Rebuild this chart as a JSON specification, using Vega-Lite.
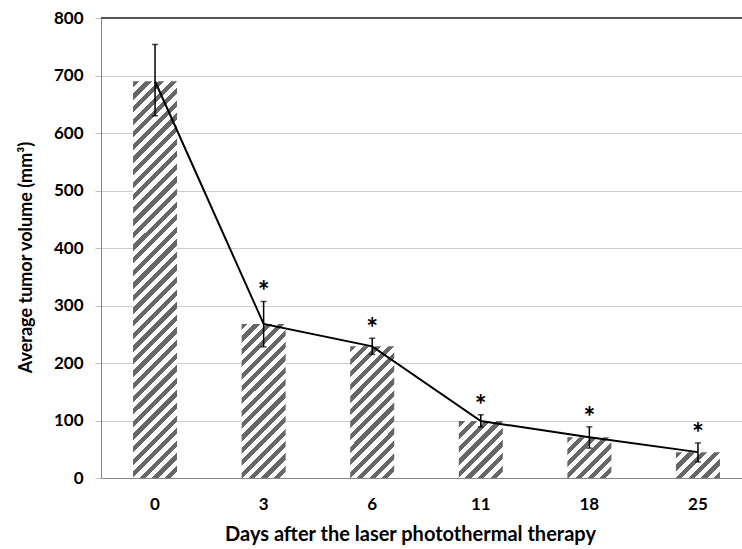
{
  "$schema": "https://vega.github.io/schema/vega-lite/v6.json",
  "autosize": "none",
  "width": 641,
  "height": 460,
  "padding": {"left": 101, "top": 18, "right": 0, "bottom": 71},
  "background": "white",
  "config": {
    "view": {"stroke": null},
    "axis": {"labelFont": "Lato", "labelFontWeight": "bold", "labelFontSize": 17, "labelColor": "#000000", "titleFont": "Lato", "titleFontWeight": "bold", "titleFontSize": 18, "titleColor": "#000000"}
  },
  "data": {"values": [
    {"day": "0", "volume": 690, "lo": 630, "hi": 754, "sig": ""},
    {"day": "3", "volume": 268, "lo": 228, "hi": 307, "sig": "*"},
    {"day": "6", "volume": 229, "lo": 215, "hi": 243, "sig": "*"},
    {"day": "11", "volume": 99, "lo": 89, "hi": 110, "sig": "*"},
    {"day": "18", "volume": 71, "lo": 52, "hi": 89, "sig": "*"},
    {"day": "25", "volume": 45, "lo": 28, "hi": 61, "sig": "*"}
  ]},
  "encoding": {
    "x": {"field": "day", "type": "ordinal", "sort": null,
      "scale": {"domain": ["0", "3", "6", "11", "18", "25"], "range": [0, 651], "paddingInner": 0.5945, "paddingOuter": 0.295},
      "axis": {"title": "Days after the laser photothermal therapy", "titleFontSize": 20, "labelAngle": 0, "ticks": false, "domainColor": "#868686", "domainWidth": 1, "labelPadding": 18, "titlePadding": 12, "titleX": 309}},
    "y": {"field": "volume", "type": "quantitative", "title": "Average tumor volume (mm³)",
      "scale": {"domain": [0, 800]},
      "axis": {"values": [0, 100, 200, 300, 400, 500, 600, 700, 800], "grid": true, "gridColor": "#cccccc", "gridWidth": 1,
        "domainColor": "#868686", "tickColor": "#bfbfbf", "tickSize": 6, "labelPadding": 12, "titlePadding": 18, "titleY": 239}}
  },
  "layer": [
    {"mark": {"type": "rule", "color": "#595959", "strokeWidth": 1.5},
     "encoding": {"x": {"value": 0}, "x2": {"value": 641}, "y": {"datum": 800, "type": "quantitative", "title": "Average tumor volume (mm³)"}}},
    {"transform": [{"filter": "datum.day == '0'"}],
     "mark": {"type": "bar", "stroke": null, "fill": {"gradient": "linear", "x1": 0, "y1": 0, "x2": 0.1217, "y2": 1.09742, "stops": [
      {"offset":0,"color":"#676767"},{"offset":0.01429,"color":"#676767"},{"offset":0.01429,"color":"#fff"},{"offset":0.02857,"color":"#fff"},
      {"offset":0.02857,"color":"#676767"},{"offset":0.04286,"color":"#676767"},{"offset":0.04286,"color":"#fff"},{"offset":0.05714,"color":"#fff"},
      {"offset":0.05714,"color":"#676767"},{"offset":0.07143,"color":"#676767"},{"offset":0.07143,"color":"#fff"},{"offset":0.08571,"color":"#fff"},
      {"offset":0.08571,"color":"#676767"},{"offset":0.1,"color":"#676767"},{"offset":0.1,"color":"#fff"},{"offset":0.11429,"color":"#fff"},
      {"offset":0.11429,"color":"#676767"},{"offset":0.12857,"color":"#676767"},{"offset":0.12857,"color":"#fff"},{"offset":0.14286,"color":"#fff"},
      {"offset":0.14286,"color":"#676767"},{"offset":0.15714,"color":"#676767"},{"offset":0.15714,"color":"#fff"},{"offset":0.17143,"color":"#fff"},
      {"offset":0.17143,"color":"#676767"},{"offset":0.18571,"color":"#676767"},{"offset":0.18571,"color":"#fff"},{"offset":0.2,"color":"#fff"},
      {"offset":0.2,"color":"#676767"},{"offset":0.21429,"color":"#676767"},{"offset":0.21429,"color":"#fff"},{"offset":0.22857,"color":"#fff"},
      {"offset":0.22857,"color":"#676767"},{"offset":0.24286,"color":"#676767"},{"offset":0.24286,"color":"#fff"},{"offset":0.25714,"color":"#fff"},
      {"offset":0.25714,"color":"#676767"},{"offset":0.27143,"color":"#676767"},{"offset":0.27143,"color":"#fff"},{"offset":0.28571,"color":"#fff"},
      {"offset":0.28571,"color":"#676767"},{"offset":0.3,"color":"#676767"},{"offset":0.3,"color":"#fff"},{"offset":0.31429,"color":"#fff"},
      {"offset":0.31429,"color":"#676767"},{"offset":0.32857,"color":"#676767"},{"offset":0.32857,"color":"#fff"},{"offset":0.34286,"color":"#fff"},
      {"offset":0.34286,"color":"#676767"},{"offset":0.35714,"color":"#676767"},{"offset":0.35714,"color":"#fff"},{"offset":0.37143,"color":"#fff"},
      {"offset":0.37143,"color":"#676767"},{"offset":0.38571,"color":"#676767"},{"offset":0.38571,"color":"#fff"},{"offset":0.4,"color":"#fff"},
      {"offset":0.4,"color":"#676767"},{"offset":0.41429,"color":"#676767"},{"offset":0.41429,"color":"#fff"},{"offset":0.42857,"color":"#fff"},
      {"offset":0.42857,"color":"#676767"},{"offset":0.44286,"color":"#676767"},{"offset":0.44286,"color":"#fff"},{"offset":0.45714,"color":"#fff"},
      {"offset":0.45714,"color":"#676767"},{"offset":0.47143,"color":"#676767"},{"offset":0.47143,"color":"#fff"},{"offset":0.48571,"color":"#fff"},
      {"offset":0.48571,"color":"#676767"},{"offset":0.5,"color":"#676767"},{"offset":0.5,"color":"#fff"},{"offset":0.51429,"color":"#fff"},
      {"offset":0.51429,"color":"#676767"},{"offset":0.52857,"color":"#676767"},{"offset":0.52857,"color":"#fff"},{"offset":0.54286,"color":"#fff"},
      {"offset":0.54286,"color":"#676767"},{"offset":0.55714,"color":"#676767"},{"offset":0.55714,"color":"#fff"},{"offset":0.57143,"color":"#fff"},
      {"offset":0.57143,"color":"#676767"},{"offset":0.58571,"color":"#676767"},{"offset":0.58571,"color":"#fff"},{"offset":0.6,"color":"#fff"},
      {"offset":0.6,"color":"#676767"},{"offset":0.61429,"color":"#676767"},{"offset":0.61429,"color":"#fff"},{"offset":0.62857,"color":"#fff"},
      {"offset":0.62857,"color":"#676767"},{"offset":0.64286,"color":"#676767"},{"offset":0.64286,"color":"#fff"},{"offset":0.65714,"color":"#fff"},
      {"offset":0.65714,"color":"#676767"},{"offset":0.67143,"color":"#676767"},{"offset":0.67143,"color":"#fff"},{"offset":0.68571,"color":"#fff"},
      {"offset":0.68571,"color":"#676767"},{"offset":0.7,"color":"#676767"},{"offset":0.7,"color":"#fff"},{"offset":0.71429,"color":"#fff"},
      {"offset":0.71429,"color":"#676767"},{"offset":0.72857,"color":"#676767"},{"offset":0.72857,"color":"#fff"},{"offset":0.74286,"color":"#fff"},
      {"offset":0.74286,"color":"#676767"},{"offset":0.75714,"color":"#676767"},{"offset":0.75714,"color":"#fff"},{"offset":0.77143,"color":"#fff"},
      {"offset":0.77143,"color":"#676767"},{"offset":0.78571,"color":"#676767"},{"offset":0.78571,"color":"#fff"},{"offset":0.8,"color":"#fff"},
      {"offset":0.8,"color":"#676767"},{"offset":0.81429,"color":"#676767"},{"offset":0.81429,"color":"#fff"},{"offset":0.82857,"color":"#fff"},
      {"offset":0.82857,"color":"#676767"},{"offset":0.84286,"color":"#676767"},{"offset":0.84286,"color":"#fff"},{"offset":0.85714,"color":"#fff"},
      {"offset":0.85714,"color":"#676767"},{"offset":0.87143,"color":"#676767"},{"offset":0.87143,"color":"#fff"},{"offset":0.88571,"color":"#fff"},
      {"offset":0.88571,"color":"#676767"},{"offset":0.9,"color":"#676767"},{"offset":0.9,"color":"#fff"},{"offset":0.91429,"color":"#fff"},
      {"offset":0.91429,"color":"#676767"},{"offset":0.92857,"color":"#676767"},{"offset":0.92857,"color":"#fff"},{"offset":0.94286,"color":"#fff"},
      {"offset":0.94286,"color":"#676767"},{"offset":0.95714,"color":"#676767"},{"offset":0.95714,"color":"#fff"},{"offset":0.97143,"color":"#fff"},
      {"offset":0.97143,"color":"#676767"},{"offset":0.98571,"color":"#676767"},{"offset":0.98571,"color":"#fff"},{"offset":1,"color":"#fff"}
     ]}}},
    {"transform": [{"filter": "datum.day == '3'"}],
     "mark": {"type": "bar", "stroke": null, "fill": {"gradient": "linear", "x1": 0, "y1": 0, "x2": 0.33939, "y2": 1.18862, "stops": [
      {"offset":0,"color":"#676767"},{"offset":0.03125,"color":"#676767"},{"offset":0.03125,"color":"#fff"},{"offset":0.0625,"color":"#fff"},
      {"offset":0.0625,"color":"#676767"},{"offset":0.09375,"color":"#676767"},{"offset":0.09375,"color":"#fff"},{"offset":0.125,"color":"#fff"},
      {"offset":0.125,"color":"#676767"},{"offset":0.15625,"color":"#676767"},{"offset":0.15625,"color":"#fff"},{"offset":0.1875,"color":"#fff"},
      {"offset":0.1875,"color":"#676767"},{"offset":0.21875,"color":"#676767"},{"offset":0.21875,"color":"#fff"},{"offset":0.25,"color":"#fff"},
      {"offset":0.25,"color":"#676767"},{"offset":0.28125,"color":"#676767"},{"offset":0.28125,"color":"#fff"},{"offset":0.3125,"color":"#fff"},
      {"offset":0.3125,"color":"#676767"},{"offset":0.34375,"color":"#676767"},{"offset":0.34375,"color":"#fff"},{"offset":0.375,"color":"#fff"},
      {"offset":0.375,"color":"#676767"},{"offset":0.40625,"color":"#676767"},{"offset":0.40625,"color":"#fff"},{"offset":0.4375,"color":"#fff"},
      {"offset":0.4375,"color":"#676767"},{"offset":0.46875,"color":"#676767"},{"offset":0.46875,"color":"#fff"},{"offset":0.5,"color":"#fff"},
      {"offset":0.5,"color":"#676767"},{"offset":0.53125,"color":"#676767"},{"offset":0.53125,"color":"#fff"},{"offset":0.5625,"color":"#fff"},
      {"offset":0.5625,"color":"#676767"},{"offset":0.59375,"color":"#676767"},{"offset":0.59375,"color":"#fff"},{"offset":0.625,"color":"#fff"},
      {"offset":0.625,"color":"#676767"},{"offset":0.65625,"color":"#676767"},{"offset":0.65625,"color":"#fff"},{"offset":0.6875,"color":"#fff"},
      {"offset":0.6875,"color":"#676767"},{"offset":0.71875,"color":"#676767"},{"offset":0.71875,"color":"#fff"},{"offset":0.75,"color":"#fff"},
      {"offset":0.75,"color":"#676767"},{"offset":0.78125,"color":"#676767"},{"offset":0.78125,"color":"#fff"},{"offset":0.8125,"color":"#fff"},
      {"offset":0.8125,"color":"#676767"},{"offset":0.84375,"color":"#676767"},{"offset":0.84375,"color":"#fff"},{"offset":0.875,"color":"#fff"},
      {"offset":0.875,"color":"#676767"},{"offset":0.90625,"color":"#676767"},{"offset":0.90625,"color":"#fff"},{"offset":0.9375,"color":"#fff"},
      {"offset":0.9375,"color":"#676767"},{"offset":0.96875,"color":"#676767"},{"offset":0.96875,"color":"#fff"},{"offset":1,"color":"#fff"}
     ]}}},
    {"transform": [{"filter": "datum.day == '6'"}],
     "mark": {"type": "bar", "stroke": null, "fill": {"gradient": "linear", "x1": 0, "y1": 0, "x2": 0.40288, "y2": 1.2004, "stops": [
      {"offset":0,"color":"#676767"},{"offset":0.03571,"color":"#676767"},{"offset":0.03571,"color":"#fff"},{"offset":0.07143,"color":"#fff"},
      {"offset":0.07143,"color":"#676767"},{"offset":0.10714,"color":"#676767"},{"offset":0.10714,"color":"#fff"},{"offset":0.14286,"color":"#fff"},
      {"offset":0.14286,"color":"#676767"},{"offset":0.17857,"color":"#676767"},{"offset":0.17857,"color":"#fff"},{"offset":0.21429,"color":"#fff"},
      {"offset":0.21429,"color":"#676767"},{"offset":0.25,"color":"#676767"},{"offset":0.25,"color":"#fff"},{"offset":0.28571,"color":"#fff"},
      {"offset":0.28571,"color":"#676767"},{"offset":0.32143,"color":"#676767"},{"offset":0.32143,"color":"#fff"},{"offset":0.35714,"color":"#fff"},
      {"offset":0.35714,"color":"#676767"},{"offset":0.39286,"color":"#676767"},{"offset":0.39286,"color":"#fff"},{"offset":0.42857,"color":"#fff"},
      {"offset":0.42857,"color":"#676767"},{"offset":0.46429,"color":"#676767"},{"offset":0.46429,"color":"#fff"},{"offset":0.5,"color":"#fff"},
      {"offset":0.5,"color":"#676767"},{"offset":0.53571,"color":"#676767"},{"offset":0.53571,"color":"#fff"},{"offset":0.57143,"color":"#fff"},
      {"offset":0.57143,"color":"#676767"},{"offset":0.60714,"color":"#676767"},{"offset":0.60714,"color":"#fff"},{"offset":0.64286,"color":"#fff"},
      {"offset":0.64286,"color":"#676767"},{"offset":0.67857,"color":"#676767"},{"offset":0.67857,"color":"#fff"},{"offset":0.71429,"color":"#fff"},
      {"offset":0.71429,"color":"#676767"},{"offset":0.75,"color":"#676767"},{"offset":0.75,"color":"#fff"},{"offset":0.78571,"color":"#fff"},
      {"offset":0.78571,"color":"#676767"},{"offset":0.82143,"color":"#676767"},{"offset":0.82143,"color":"#fff"},{"offset":0.85714,"color":"#fff"},
      {"offset":0.85714,"color":"#676767"},{"offset":0.89286,"color":"#676767"},{"offset":0.89286,"color":"#fff"},{"offset":0.92857,"color":"#fff"},
      {"offset":0.92857,"color":"#676767"},{"offset":0.96429,"color":"#676767"},{"offset":0.96429,"color":"#fff"},{"offset":1,"color":"#fff"}
     ]}}},
    {"transform": [{"filter": "datum.day == '11'"}],
     "mark": {"type": "bar", "stroke": null, "fill": {"gradient": "linear", "x1": 0, "y1": 0, "x2": 0.85786, "y2": 1.10985, "stops": [
      {"offset":0,"color":"#676767"},{"offset":0.0625,"color":"#676767"},{"offset":0.0625,"color":"#fff"},{"offset":0.125,"color":"#fff"},
      {"offset":0.125,"color":"#676767"},{"offset":0.1875,"color":"#676767"},{"offset":0.1875,"color":"#fff"},{"offset":0.25,"color":"#fff"},
      {"offset":0.25,"color":"#676767"},{"offset":0.3125,"color":"#676767"},{"offset":0.3125,"color":"#fff"},{"offset":0.375,"color":"#fff"},
      {"offset":0.375,"color":"#676767"},{"offset":0.4375,"color":"#676767"},{"offset":0.4375,"color":"#fff"},{"offset":0.5,"color":"#fff"},
      {"offset":0.5,"color":"#676767"},{"offset":0.5625,"color":"#676767"},{"offset":0.5625,"color":"#fff"},{"offset":0.625,"color":"#fff"},
      {"offset":0.625,"color":"#676767"},{"offset":0.6875,"color":"#676767"},{"offset":0.6875,"color":"#fff"},{"offset":0.75,"color":"#fff"},
      {"offset":0.75,"color":"#676767"},{"offset":0.8125,"color":"#676767"},{"offset":0.8125,"color":"#fff"},{"offset":0.875,"color":"#fff"},
      {"offset":0.875,"color":"#676767"},{"offset":0.9375,"color":"#676767"},{"offset":0.9375,"color":"#fff"},{"offset":1,"color":"#fff"}
     ]}}},
    {"transform": [{"filter": "datum.day == '18'"}],
     "mark": {"type": "bar", "stroke": null, "fill": {"gradient": "linear", "x1": 0, "y1": 0, "x2": 1.03598, "y2": 0.96122, "stops": [
      {"offset":0,"color":"#676767"},{"offset":0.07143,"color":"#676767"},{"offset":0.07143,"color":"#fff"},{"offset":0.14286,"color":"#fff"},
      {"offset":0.14286,"color":"#676767"},{"offset":0.21429,"color":"#676767"},{"offset":0.21429,"color":"#fff"},{"offset":0.28571,"color":"#fff"},
      {"offset":0.28571,"color":"#676767"},{"offset":0.35714,"color":"#676767"},{"offset":0.35714,"color":"#fff"},{"offset":0.42857,"color":"#fff"},
      {"offset":0.42857,"color":"#676767"},{"offset":0.5,"color":"#676767"},{"offset":0.5,"color":"#fff"},{"offset":0.57143,"color":"#fff"},
      {"offset":0.57143,"color":"#676767"},{"offset":0.64286,"color":"#676767"},{"offset":0.64286,"color":"#fff"},{"offset":0.71429,"color":"#fff"},
      {"offset":0.71429,"color":"#676767"},{"offset":0.78571,"color":"#676767"},{"offset":0.78571,"color":"#fff"},{"offset":0.85714,"color":"#fff"},
      {"offset":0.85714,"color":"#676767"},{"offset":0.92857,"color":"#676767"},{"offset":0.92857,"color":"#fff"},{"offset":1,"color":"#fff"}
     ]}}},
    {"transform": [{"filter": "datum.day == '25'"}],
     "mark": {"type": "bar", "stroke": null, "fill": {"gradient": "linear", "x1": 0, "y1": 0, "x2": 1.18, "y2": 0.69392, "stops": [
      {"offset":0,"color":"#676767"},{"offset":0.0909,"color":"#676767"},{"offset":0.0909,"color":"#fff"},{"offset":0.1818,"color":"#fff"},
      {"offset":0.1818,"color":"#676767"},{"offset":0.2727,"color":"#676767"},{"offset":0.2727,"color":"#fff"},{"offset":0.3636,"color":"#fff"},
      {"offset":0.3636,"color":"#676767"},{"offset":0.4545,"color":"#676767"},{"offset":0.4545,"color":"#fff"},{"offset":0.5455,"color":"#fff"},
      {"offset":0.5455,"color":"#676767"},{"offset":0.6364,"color":"#676767"},{"offset":0.6364,"color":"#fff"},{"offset":0.7273,"color":"#fff"},
      {"offset":0.7273,"color":"#676767"},{"offset":0.8182,"color":"#676767"},{"offset":0.8182,"color":"#fff"},{"offset":0.9091,"color":"#fff"},
      {"offset":0.9091,"color":"#676767"},{"offset":1,"color":"#676767"}
     ]}}},
    {"mark": {"type": "line", "color": "#000000", "strokeWidth": 2}},
    {"mark": {"type": "rule", "color": "#000000", "strokeWidth": 1.5},
     "encoding": {"y": {"field": "lo", "type": "quantitative", "title": "Average tumor volume (mm³)"}, "y2": {"field": "hi"}}},
    {"mark": {"type": "tick", "color": "#000000", "size": 6, "thickness": 1.5},
     "encoding": {"y": {"field": "lo", "type": "quantitative", "title": "Average tumor volume (mm³)"}}},
    {"mark": {"type": "tick", "color": "#000000", "size": 6, "thickness": 1.5},
     "encoding": {"y": {"field": "hi", "type": "quantitative", "title": "Average tumor volume (mm³)"}}},
    {"mark": {"type": "text", "font": "Lato", "fontSize": 28, "fontWeight": "bold", "color": "#000000", "baseline": "alphabetic", "dy": 0},
     "encoding": {"y": {"field": "hi", "type": "quantitative", "title": "Average tumor volume (mm³)"}, "text": {"field": "sig"}}}
  ]
}
